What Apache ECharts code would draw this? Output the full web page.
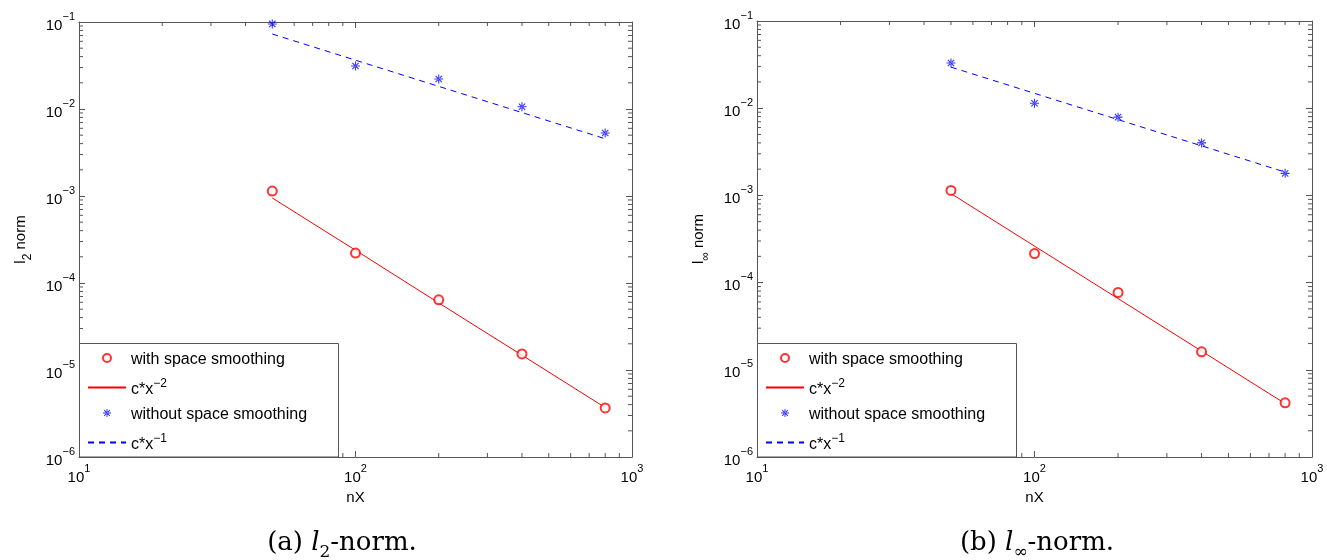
<!DOCTYPE html>
<html>
<head>
<meta charset="utf-8">
<title>l2 / l-inf norm convergence</title>
<script src="https://cdn.jsdelivr.net/npm/echarts@6/dist/echarts.min.js"></script>
<style>
  html, body { margin: 0; padding: 0; background: #fff; }
  #chart { width: 1327px; height: 560px; }
</style>
</head>
<body>
<div id="chart"></div>
<script>
// grid sizes nX
var nX = [50, 100, 200, 400, 800];

// (a) l2-norm
var l2With = [1.14e-3, 2.21e-4, 6.4e-5, 1.53e-5, 3.66e-6];
var l2WithFit = [9.5e-4, 2.38e-4, 5.9e-5, 1.48e-5, 3.7e-6];
var l2Without = [0.095, 0.0312, 0.0221, 0.0106, 0.0053];
var l2WithoutFit = [0.0728, 0.0364, 0.0182, 0.0091, 0.00455];

// (b) l-inf-norm
var linfWith = [1.14e-3, 2.15e-4, 7.7e-5, 1.61e-5, 4.18e-6];
var linfWithFit = [1.05e-3, 2.62e-4, 6.56e-5, 1.64e-5, 4.1e-6];
var linfWithout = [0.033, 0.0114, 0.0079, 0.0040, 0.00179];
var linfWithoutFit = [0.0296, 0.0148, 0.0074, 0.0037, 0.00185];

var legendNames = ['with space smoothing', 'c*x^-2', 'without space smoothing', 'c*x^-1'];

var RED = '#ff0000';
var BLUE = '#0000ff';
var AXIS = '#555';
var SANS = 'Liberation Sans, Arial, sans-serif';
var SERIF = 'DejaVu Serif, Liberation Serif, serif';

// matlab style asterisk: 4 thin bars
var STAR = 'path://M-5,-0.6L5,-0.6L5,0.6L-5,0.6Z M-0.6,-5L0.6,-5L0.6,5L-0.6,5Z ' +
    'M3.11,3.96L-3.96,-3.11L-3.11,-3.96L3.96,3.11Z M-3.11,3.96L3.96,-3.11L3.11,-3.96L-3.96,3.11Z';

var supRich = {
    b: { fontSize: 15, fontFamily: SANS, color: '#000', lineHeight: 22, verticalAlign: 'bottom' },
    sup: { fontSize: 11, fontFamily: SANS, color: '#000', lineHeight: 22, verticalAlign: 'top' }
};

function powLabel(v) {
    var e = Math.round(Math.log10(v));
    return '{b|10}{sup|' + String(e).replace('-', '\u2212') + '}';
}

function pairs(ys) {
    return nX.map(function (x, i) { return [x, ys[i]]; });
}

// minor tick positions 2..9 per decade
function minorTicks(lo, hi) {
    var out = [];
    for (var e = lo; e < hi; e++) {
        for (var m = 2; m <= 9; m++) out.push(m * Math.pow(10, e));
    }
    return out;
}
var xMinor = minorTicks(1, 3);
var yMinor = minorTicks(-6, -1);

var grids = [
    { left: 79, right: 695, top: 22, bottom: 103 },
    { left: 757, right: 15, top: 21, bottom: 103 }
];

function mainX(g) {
    return {
        type: 'log', gridIndex: g, min: 10, max: 1000, logBase: 10,
        name: 'nX', nameLocation: 'middle', nameGap: 33,
        nameTextStyle: { fontSize: 15, fontFamily: SANS, color: '#000' },
        axisLine: { lineStyle: { color: AXIS, width: 1 } },
        axisTick: { inside: true, length: 6, lineStyle: { color: AXIS } },
        axisLabel: { margin: 6, formatter: powLabel, rich: supRich },
        splitLine: { show: false }
    };
}
function topX(g) {
    return {
        type: 'log', gridIndex: g, min: 10, max: 1000, position: 'top',
        axisLine: { lineStyle: { color: AXIS } },
        axisTick: { inside: true, length: 6, lineStyle: { color: AXIS } },
        axisLabel: { show: false }, splitLine: { show: false }
    };
}
function mainY(g, nameRich) {
    return {
        type: 'log', gridIndex: g, min: 1e-6, max: 1e-1, logBase: 10, splitNumber: 5,
        name: nameRich, nameLocation: 'middle', nameGap: 45, nameRotate: 90,
        nameTextStyle: {
            fontSize: 15, fontFamily: SANS, color: '#000',
            rich: {
                n: { fontSize: 15, fontFamily: SANS, color: '#000' },
                s: { fontSize: 12, fontFamily: SANS, color: '#000', verticalAlign: 'bottom', lineHeight: 26 }
            }
        },
        axisLine: { lineStyle: { color: AXIS } },
        axisTick: { inside: true, length: 6, lineStyle: { color: AXIS } },
        axisLabel: { margin: 4, formatter: powLabel, rich: supRich },
        splitLine: { show: false }
    };
}
function rightY(g) {
    return {
        type: 'log', gridIndex: g, min: 1e-6, max: 1e-1, splitNumber: 5, position: 'right',
        axisLine: { lineStyle: { color: AXIS } },
        axisTick: { inside: true, length: 6, lineStyle: { color: AXIS } },
        axisLabel: { show: false }, splitLine: { show: false }
    };
}

// minor ticks drawn on all four sides of a box
function minorSeries(g, axisIdx) {
    var data = [];
    xMinor.forEach(function (v) { data.push([v, 1e-6, 0]); });
    yMinor.forEach(function (v) { data.push([10, v, 1]); });
    return {
        type: 'custom', xAxisIndex: axisIdx, yAxisIndex: axisIdx, silent: true, z: 2,
        data: data,
        renderItem: function (params, api) {
            var v0 = api.value(0), v1 = api.value(1), kind = api.value(2);
            var st = { stroke: AXIS, lineWidth: 1 };
            var a, b;
            if (kind === 0) {
                a = api.coord([v0, 1e-6]); b = api.coord([v0, 1e-1]);
                return { type: 'group', children: [
                    { type: 'line', shape: { x1: a[0], y1: a[1], x2: a[0], y2: a[1] - 4 }, style: st },
                    { type: 'line', shape: { x1: b[0], y1: b[1], x2: b[0], y2: b[1] + 4 }, style: st }
                ] };
            }
            a = api.coord([10, v1]); b = api.coord([1000, v1]);
            return { type: 'group', children: [
                { type: 'line', shape: { x1: a[0], y1: a[1], x2: a[0] + 4, y2: a[1] }, style: st },
                { type: 'line', shape: { x1: b[0], y1: b[1], x2: b[0] - 4, y2: b[1] }, style: st }
            ] };
        }
    };
}

function dataSeries(axisIdx, withPts, withFit, withoutPts, withoutFit) {
    return [
        {
            name: legendNames[0], type: 'scatter', xAxisIndex: axisIdx, yAxisIndex: axisIdx,
            symbol: 'emptyCircle', symbolSize: 9, itemStyle: { color: RED, borderWidth: 1 },
            data: pairs(withPts), z: 5
        },
        {
            name: legendNames[1], type: 'line', xAxisIndex: axisIdx, yAxisIndex: axisIdx,
            symbol: 'none', lineStyle: { color: RED, width: 1 }, itemStyle: { color: RED },
            data: pairs(withFit), z: 4
        },
        {
            name: legendNames[2], type: 'scatter', xAxisIndex: axisIdx, yAxisIndex: axisIdx,
            symbol: STAR, symbolSize: 9, itemStyle: { color: BLUE },
            data: pairs(withoutPts), z: 5
        },
        {
            name: legendNames[3], type: 'line', xAxisIndex: axisIdx, yAxisIndex: axisIdx,
            symbol: 'none', lineStyle: { color: BLUE, width: 1, type: [6, 5] }, itemStyle: { color: BLUE },
            data: pairs(withoutFit), z: 4
        }
    ];
}

// line entries get a bare line icon (hide the default dot)
var legendData = legendNames.map(function (n) {
    if (n.indexOf('^') < 0) return { name: n };
    return { name: n, itemStyle: { color: 'rgba(0,0,0,0)', borderWidth: 0, opacity: 0 } };
});

function legendFor(left) {
    return {
        orient: 'vertical', left: left, top: 347, z: 10,
        data: legendData, itemWidth: 38, itemHeight: 8, itemGap: 9.5,
        selectedMode: false,
        formatter: function (name) {
            var m = name.match(/^(.*)\^-(\d)$/);
            if (m) return '{t|' + m[1] + '}{sup|\u2212' + m[2] + '}';
            return '{t|' + name + '}';
        },
        textStyle: {
            fontSize: 16, fontFamily: SANS, color: '#000',
            rich: {
                t: { fontSize: 16, fontFamily: SANS, color: '#000', lineHeight: 20, verticalAlign: 'bottom' },
                sup: { fontSize: 12, fontFamily: SANS, color: '#000', lineHeight: 20, verticalAlign: 'top' }
            }
        }
    };
}

// legend boxes and captions
var capRich = {
    r: { fontSize: 26, fontFamily: SERIF, fill: '#000' },
    i: { fontSize: 26, fontFamily: SERIF, fontStyle: 'italic', fill: '#000' },
    s: { fontSize: 17, fontFamily: SERIF, fill: '#000', verticalAlign: 'bottom', lineHeight: 36 }
};
var graphics = [
    { type: 'rect', z: 3, shape: { x: 79.5, y: 343.5, width: 259, height: 113.5 },
      style: { fill: '#fff', stroke: AXIS, lineWidth: 1 } },
    { type: 'rect', z: 3, shape: { x: 757.5, y: 343.5, width: 259, height: 113.5 },
      style: { fill: '#fff', stroke: AXIS, lineWidth: 1 } },
    { type: 'text', x: 342, y: 543, style: {
        text: '{r|(a) }{i|l}{s|2}{r|-norm.}', align: 'center', verticalAlign: 'middle', rich: capRich } },
    { type: 'text', x: 1037, y: 543, style: {
        text: '{r|(b) }{i|l}{s|\u221E}{r|-norm.}', align: 'center', verticalAlign: 'middle', rich: capRich } }
];

var option = {
    animation: false,
    backgroundColor: '#fff',
    grid: grids,
    xAxis: [mainX(0), mainX(1), topX(0), topX(1)],
    yAxis: [mainY(0, '{n|l}{s|2}{n| norm}'), mainY(1, '{n|l}{s|\u221E}{n| norm}'), rightY(0), rightY(1)],
    legend: [legendFor(82), legendFor(760)],
    graphic: graphics,
    series: [].concat(
        dataSeries(0, l2With, l2WithFit, l2Without, l2WithoutFit),
        dataSeries(1, linfWith, linfWithFit, linfWithout, linfWithoutFit),
        [minorSeries(0, 0), minorSeries(1, 1)]
    )
};

// top/right helper axes only frame the box
option.xAxis[2].gridIndex = 0; option.xAxis[3].gridIndex = 1;
option.yAxis[2].gridIndex = 0; option.yAxis[3].gridIndex = 1;

var chart = echarts.init(document.getElementById('chart'));
chart.setOption(option);
window.addEventListener('resize', chart.resize);
</script>
</body>
</html>
